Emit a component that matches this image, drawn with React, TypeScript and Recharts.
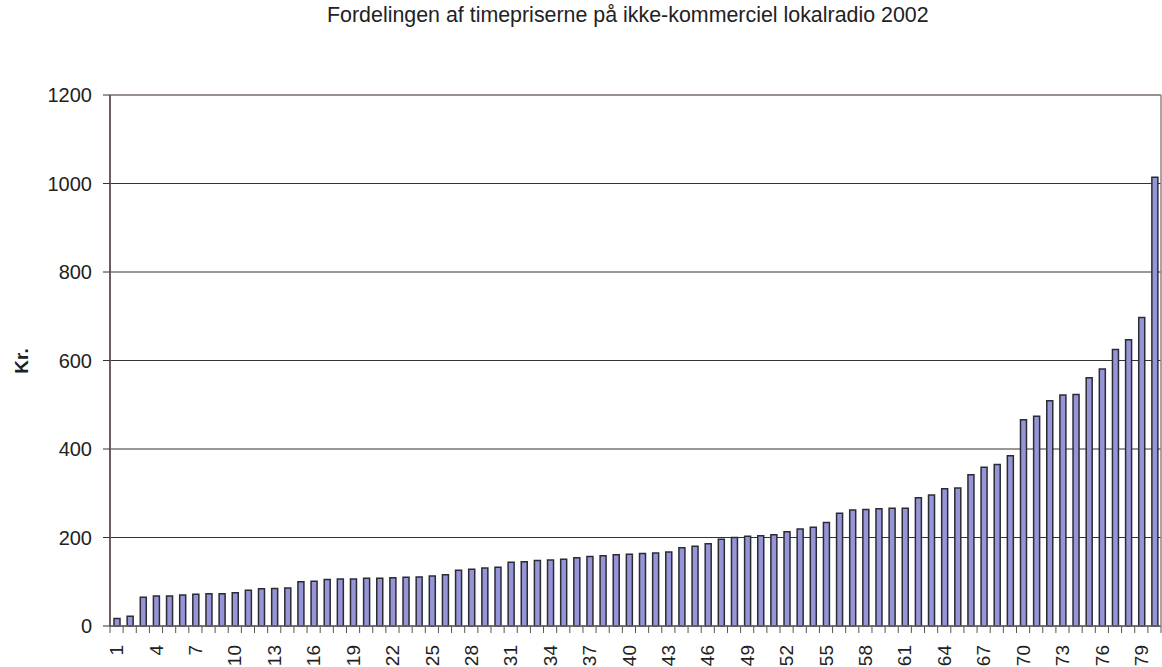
import { BarChart, Bar, XAxis, YAxis, CartesianGrid, ReferenceLine } from 'recharts';

const priser = [
  17, 22, 65, 68, 68, 70, 72, 73, 73, 75,
  81, 84, 85, 86, 100, 101, 105, 106, 106, 108,
  108, 109, 110, 111, 113, 116, 126, 128, 131, 133,
  144, 145, 148, 149, 151, 154, 157, 159, 161, 162,
  164, 165, 167, 177, 180, 186, 196, 200, 203, 204,
  206, 213, 219, 223, 234, 255, 262, 263, 265, 266,
  266, 290, 296, 310, 312, 342, 359, 365, 385, 466,
  474, 509, 522, 523, 561, 581, 625, 647, 697, 1014,
];
const stationer = priser.map((_, i) => String(i + 1));
const yTicks = [0, 200, 400, 600, 800, 1000, 1200];

const data = stationer.map((s, i) => ({ name: s, kr: priser[i] }));

const FONT = '"Liberation Sans", Arial, sans-serif';
const BAND = 1051 / 80;

function renderXTick(props: any) {
  const { x, y, payload, index } = props;
  const last = index === stationer.length - 1;
  const ty = y + 19;
  return (
    <g key={`xt-${index}`}>
      <line x1={x - BAND / 2} x2={x - BAND / 2} y1={y} y2={y + 7} stroke="#555" />
      {last && <line x1={x + BAND / 2} x2={x + BAND / 2} y1={y} y2={y + 7} stroke="#555" />}
      {index % 3 === 0 && (
        <text
          x={x}
          y={ty}
          transform={`matrix(0 -1 1 0 ${x - ty} ${ty + x})`}
          style={{ transform: 'rotate(-90deg)', transformOrigin: `${x}px ${ty}px` }}
          textAnchor="end"
          dy="0.35em"
          fontSize={19}
          fontFamily={FONT}
          fill="#222"
        >
          {payload.value}
        </text>
      )}
    </g>
  );
}

const KrLabel = () => (
  <g transform="translate(21,361)">
    <text
      transform="rotate(-90)"
      textAnchor="middle"
      dy="0.35em"
      fontSize={19}
      fontWeight="bold"
      fontFamily={FONT}
      fill="#222"
    >
      Kr.
    </text>
  </g>
);

export default function App() {
  return (
    <div style={{ position: 'absolute', left: 0, top: 0, width: 1162, height: 667, background: '#fff' }}>
      <div
        style={{
          position: 'absolute',
          left: 327,
          top: 4,
          fontFamily: FONT,
          fontSize: 21.4,
          lineHeight: '22px',
          color: '#222',
          whiteSpace: 'nowrap',
        }}
      >
        Fordelingen af timepriserne på ikke-kommerciel lokalradio 2002
      </div>
      <BarChart
        width={1162}
        height={667}
        data={data}
        margin={{ top: 95, right: 0, bottom: 0, left: 0 }}
        barSize={6}
      >
        <CartesianGrid yAxisId="left" vertical={false} stroke="#333" />
        <XAxis
          dataKey="name"
          height={41}
          interval={0}
          tickSize={0}
          tickMargin={0}
          tickLine={false}
          axisLine={{ stroke: '#666', strokeWidth: 1.5 }}
          tick={renderXTick}
        />
        <YAxis
          yAxisId="left"
          width={110}
          domain={[0, 1200]}
          ticks={yTicks}
          interval={0}
          tickSize={7}
          tickMargin={11}
          tickLine={{ stroke: '#333' }}
          axisLine={{ stroke: '#6b5f5f', strokeWidth: 2 }}
          tick={{ fontSize: 20, fontFamily: FONT, fill: '#222' }}
          label={<KrLabel />}
        />
        <YAxis
          yAxisId="right"
          orientation="right"
          width={1}
          domain={[0, 1200]}
          tick={false}
          tickLine={false}
          axisLine={{ stroke: '#8f8686', strokeWidth: 1.5 }}
        />
        <ReferenceLine yAxisId="left" y={1200} stroke="#9a9090" strokeWidth={2} />
        <Bar
          yAxisId="left"
          dataKey="kr"
          fill="#9595d8"
          stroke="#2b2b33"
          strokeWidth={1.5}
          isAnimationActive={false}
        />
      </BarChart>
    </div>
  );
}
